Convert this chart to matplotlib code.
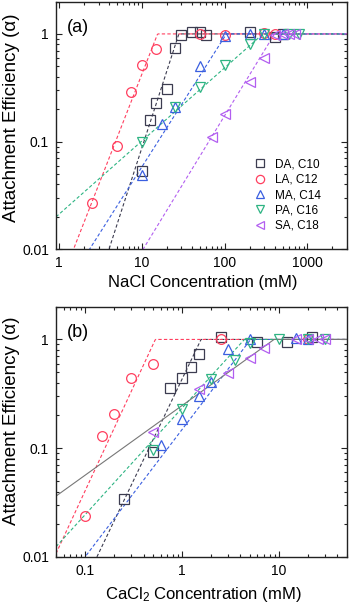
import numpy as np
import matplotlib
matplotlib.use("Agg")
import matplotlib.pyplot as plt
from matplotlib.ticker import FuncFormatter, LogLocator, NullFormatter

plt.rcParams['font.family'] = ['Liberation Sans', 'DejaVu Sans']
plt.rcParams['mathtext.fontset'] = 'custom'
plt.rcParams['mathtext.rm'] = 'Liberation Sans'
plt.rcParams['mathtext.it'] = 'Liberation Sans:italic'

labels = ["DA, C10", "LA, C12", "MA, C14", "PA, C16", "SA, C18"]
colors = ["#3c3c50", "#ff3f5f", "#3a5fe0", "#2eb483", "#b25ef0"]
markers = ["s", "o", "^", "v", "<"]

# Panel (a): NaCl
a_x = [
    [10, 12.5, 15, 20, 25, 30, 40, 50, 60, 200, 400, 500],
    [2.5, 5, 7.5, 10, 15, 50, 100, 300, 400],
    [10, 17.5, 25, 50, 100, 200, 300, 500],
    [10, 25, 50, 100, 200, 300, 600, 800],
    [70, 100, 200, 300, 400, 500, 600, 700],
]
a_y = [
    [0.053, 0.16, 0.23, 0.31, 0.74, 0.97, 1.05, 1.04, 0.98, 1.04, 0.93, 1.0],
    [0.027, 0.092, 0.29, 0.52, 0.72, 1.0, 0.98, 1.02, 1.0],
    [0.049, 0.145, 0.21, 0.50, 0.95, 1.0, 1.0, 1.0],
    [0.10, 0.21, 0.32, 0.52, 0.81, 1.0, 1.0, 0.99],
    [0.11, 0.18, 0.36, 0.60, 0.98, 1.0, 1.0, 1.0],
]
a_ccc = [28, 15.5, 105, 290, 400]
a_beta = [2.37, 1.97, 1.21, 0.68, 1.26]

# Panel (b): CaCl2
b_x = [
    [0.25, 0.5, 0.75, 1, 1.25, 1.5, 2.5, 6, 12, 22],
    [0.1, 0.15, 0.2, 0.3, 0.5, 2.5, 20],
    [0.6, 1, 1.5, 2, 3, 5, 15, 20],
    [0.5, 1, 2, 3.5, 5, 10, 20, 30],
    [0.5, 1.5, 3, 5, 7, 15, 20, 25, 30],
]
b_y = [
    [0.034, 0.092, 0.36, 0.445, 0.56, 0.73, 1.05, 0.94, 0.94, 1.06],
    [0.024, 0.13, 0.205, 0.445, 0.59, 1.0, 1.01],
    [0.106, 0.185, 0.30, 0.41, 0.81, 1.0, 1.03, 1.0],
    [0.097, 0.23, 0.43, 0.65, 0.92, 1.0, 1.0, 1.0],
    [0.142, 0.35, 0.49, 0.67, 0.83, 1.0, 1.0, 1.0, 1.0],
]
b_ccc = [1.57, 0.53, 5.1, 4.4, 8.9]
b_beta = [1.86, 1.92, 1.17, 0.98, 0.64]

fig = plt.figure(figsize=(3.49, 6.06), dpi=100)
ax_a = fig.add_axes([56/349, 1 - 249.3/606, (347-56)/349, (249.3-1.5)/606])
ax_b = fig.add_axes([56/349, 1 - 557/606, (346.7-56)/349, (557-306.7)/606])


def fit_line(x0, x1, ccc, beta):
    xs = np.logspace(np.log10(x0), np.log10(x1), 400)
    return xs, np.minimum(1.0, (xs / ccc) ** beta)


def style(ax, xlim, xlabel, tag, ylab_y, xlab_y):
    ax.set_xscale('log')
    ax.set_yscale('log')
    ax.set_xlim(*xlim)
    ax.set_ylim(0.01, 2)
    fmt = FuncFormatter(lambda v, p: '%g' % v)
    ax.xaxis.set_major_formatter(fmt)
    ax.yaxis.set_major_formatter(fmt)
    ax.xaxis.set_minor_formatter(NullFormatter())
    ax.yaxis.set_minor_formatter(NullFormatter())
    ax.yaxis.set_major_locator(LogLocator(base=10, numticks=10))
    ax.tick_params(which='both', direction='in', top=True, right=True,
                   labelsize=10, color='#222222', width=0.8)
    ax.tick_params(which='major', length=4, pad=5)
    ax.tick_params(which='minor', length=2)
    for s in ax.spines.values():
        s.set_linewidth(1.0)
        s.set_color('#222222')
    ax.set_xlabel(xlabel, fontsize=12)
    ax.set_ylabel('Attachment Efficiency (α)', fontsize=13.5)
    ax.yaxis.set_label_coords(-0.124, ylab_y)
    ax.xaxis.set_label_coords(0.505, xlab_y)
    ax.text(0.038, 0.895, tag, transform=ax.transAxes, fontsize=13,
            va='center', ha='left')


# panel a
for i in range(5):
    xs, ys = fit_line(0.92, 3000, a_ccc[i], a_beta[i])
    ax_a.plot(xs, ys, ls=(0, (3, 2)), lw=0.8, color=colors[i], zorder=2)
for i in range(5):
    ax_a.plot(a_x[i], a_y[i], ls='none', marker=markers[i], ms=7,
              mfc='none', mec=colors[i], mew=0.9, label=labels[i], zorder=3)
style(ax_a, (0.92, 3000), 'NaCl Concentration (mM)', '(a)', 0.53, -0.105)
leg = ax_a.legend(loc='upper left', bbox_to_anchor=(0.66, 0.39), frameon=False,
                  fontsize=8.5, handlelength=1.0, handletextpad=0.8,
                  labelspacing=0.28, borderpad=0, markerscale=0.85)

# panel b
for i in range(5):
    xs, ys = fit_line(0.05, 50, b_ccc[i], b_beta[i])
    if i == 4:
        ax_b.plot(xs, ys, ls='-', lw=0.8, color='#777777', zorder=2)
    else:
        ax_b.plot(xs, ys, ls=(0, (3, 2)), lw=0.8, color=colors[i], zorder=2)
for i in range(5):
    ax_b.plot(b_x[i], b_y[i], ls='none', marker=markers[i], ms=7,
              mfc='none', mec=colors[i], mew=0.9, zorder=3)
style(ax_b, (0.05, 50), 'CaCl$_2$ Concentration (mM)', '(b)', 0.543, -0.112)

fig.savefig('out.png', dpi=100)
